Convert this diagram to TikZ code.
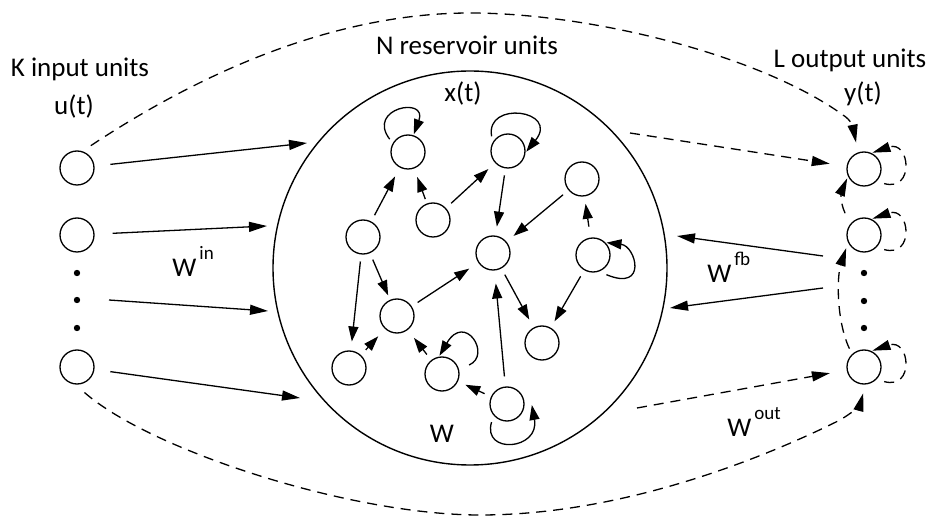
\documentclass[tikz,border=0pt]{standalone}
\usepackage{fontspec}
\setmainfont{Carlito}
\usetikzlibrary{arrows.meta}

% superscript after a W label
\newcommand{\wsup}[1]{\kern1.5pt\raisebox{8.5pt}{\fontsize{9.5}{11}\selectfont #1}}

\begin{document}
\begin{tikzpicture}[x=0.5pt, y=-0.5pt,
  unit/.style={circle, draw, line width=0.65pt, minimum size=17pt, inner sep=0pt},
  pool/.style={circle, draw, line width=0.7pt, minimum size=197pt, inner sep=0pt},
  lbl/.style={font=\fontsize{13.5}{16}\selectfont, inner sep=0pt, anchor=base},
  link/.style={draw, line width=0.65pt, -{Triangle[length=7.5pt,width=5pt]},
               shorten <=3.5pt, shorten >=4.5pt},
  longlink/.style={draw, line width=0.65pt, -{Triangle[length=9pt,width=5pt]}},
  dsh/.style={dash pattern=on 5pt off 3.5pt},
  selfloop/.style={link, shorten <=1.5pt, shorten >=0.5pt},
  dotmark/.style={fill=black}
]
\fill[white] (0,0) rectangle (933,518);

% ---------- input layer ----------
\node[unit] (in1) at (77,168) {};
\node[unit] (in2) at (77,235) {};
\node[unit] (in3) at (77,367) {};
\foreach \y in {273,300,328} \fill[dotmark] (77,\y) circle (1.6pt);

% ---------- output layer ----------
\node[unit] (out1) at (864,169) {};
\node[unit] (out2) at (864,235) {};
\node[unit] (out3) at (864,367) {};
\foreach \y in {273,301,328} \fill[dotmark] (864,\y) circle (1.6pt);

% ---------- reservoir ----------
\node[pool] (res) at (470,268) {};
\node[unit] (A) at (408,152) {};
\node[unit] (B) at (508,151) {};
\node[unit] (C) at (582,179) {};
\node[unit] (D) at (433,220) {};
\node[unit] (E) at (363,237) {};
\node[unit] (F) at (493,253) {};
\node[unit] (G) at (593,255) {};
\node[unit] (H) at (397,316) {};
\node[unit] (I) at (542,343) {};
\node[unit] (J) at (349,368) {};
\node[unit] (K) at (442,374) {};
\node[unit] (L) at (507,404) {};

% internal connections
\draw[link, shorten >=5pt] (E) -- (A);
\draw[link, shorten <=2.3pt] (D) -- (A);
\draw[link] (D) -- (B);
\draw[link] (B) -- (F);
\draw[link] (C) -- (F);
\draw[link, shorten <=5.5pt, shorten >=3.7pt] (G) -- (C);
\draw[link] (E) -- (J);
\draw[link, shorten >=2.4pt] (E) -- (H);
\draw[link, shorten >=5.4pt] (H) -- (F);
\draw[link] (F) -- (I);
\draw[link, shorten >=3.7pt] (G) -- (I);
\draw[link, shorten >=5pt] (J) -- (H);
\draw[link, shorten >=5pt] (K) -- (H);
\draw[link, shorten >=4pt] (L) -- (K);
\draw[link, shorten <=5pt, shorten >=6.5pt] (L) -- (F);

% recurrent self connections
\draw[selfloop, shorten <=2.5pt] (A.150) .. controls (366,108) and (428,96) .. (A.72);
\draw[selfloop, shorten <=3pt] (B.150) .. controls (485,100) and (560,110) .. (B.-5);
\draw[selfloop, shorten <=4pt] (G.-70) .. controls (648,292) and (636,246) .. (G.45);
\draw[selfloop, shorten <=5.5pt] (K.15) .. controls (492,355) and (465,312) .. (K.100);
\draw[selfloop, shorten <=3.5pt] (L.220) .. controls (482,455) and (540,450) .. ([xshift=3.5pt]L.east);

% ---------- input weights ----------
\coordinate (r1) at (307,143);
\coordinate (r2) at (267,226);
\coordinate (r3) at (268,311);
\coordinate (r4) at (300,398);
\coordinate (dsrc) at (109,300);
\draw[longlink, shorten <=8pt] (in1) -- (r1);
\draw[longlink, shorten <=9pt] (in2) -- (r2);
\draw[longlink] (dsrc) -- (r3);
\draw[longlink, shorten <=8pt] (in3) -- (r4);

% ---------- feedback weights ----------
\coordinate (fs1) at (823,256);
\coordinate (fe1) at (677,236);
\coordinate (fs2) at (823,288);
\coordinate (fe2) at (670,308);
\draw[longlink] (fs1) -- (fe1);
\draw[longlink] (fs2) -- (fe2);

% ---------- output weights ----------
\coordinate (rs1) at (630,133);
\coordinate (rs2) at (637,408);
\draw[longlink, dsh, shorten >=8.5pt] (rs1) -- (out1);
\draw[longlink, dsh, shorten >=8.5pt] (rs2) -- (out3);

% input to output, upper and lower
\draw[longlink, dsh, shorten <=5pt, shorten >=5pt]
  (in1.72) .. controls (220,60) and (350,13) .. (470,13)
  .. controls (590,13) and (760,55) .. (843,115)
  .. controls (851,120) and (853,127) .. (out1.110);
\draw[longlink, dsh, shorten <=6pt, shorten >=4.5pt]
  (in3.-95) .. controls (150,450) and (350,515) .. (480,515)
  .. controls (620,515) and (760,460) .. (840,420)
  .. controls (852,413) and (860,405) .. (out3.-85);

% output to output
\draw[longlink, dsh, shorten <=3pt, shorten >=3pt]
  (out3.133) .. controls (836,320) and (837,276) .. (out2.205);
\draw[longlink, dsh, shorten <=6pt, shorten >=1pt]
  (out2.142) .. controls (839,200) and (842,190) .. (out1.205);

% output self connections
\draw[longlink, dsh, shorten <=4pt, shorten >=0.5pt]
  (out1.-45) .. controls (915,192) and (910,140) .. (out1.65);
\draw[longlink, dsh, shorten <=4pt, shorten >=0.5pt]
  (out2.-45) .. controls (915,258) and (910,206) .. (out2.65);
\draw[longlink, dsh, shorten <=4pt, shorten >=0.5pt]
  (out3.-45) .. controls (915,390) and (910,338) .. (out3.65);

% ---------- labels ----------
\node[lbl] (tK) at (80,77) {K input units};
\node[lbl] (tu) at (74,115) {u(t)};
\node[lbl] (tN) at (467,55) {N reservoir units};
\node[lbl] (tx) at (463,102) {x(t)};
\node[lbl] (tL) at (850,68) {L output units};
\node[lbl] (ty) at (863,102) {y(t)};
\node[lbl, anchor=base west] (win) at (172,277) {W\wsup{in}};
\node[lbl, anchor=base west] (wfb) at (707,283) {W\wsup{fb}};
\node[lbl, anchor=base west] (wout) at (727,437) {W\wsup{out}};
\node[lbl] (w) at (442,443) {W};
\end{tikzpicture}
\end{document}
